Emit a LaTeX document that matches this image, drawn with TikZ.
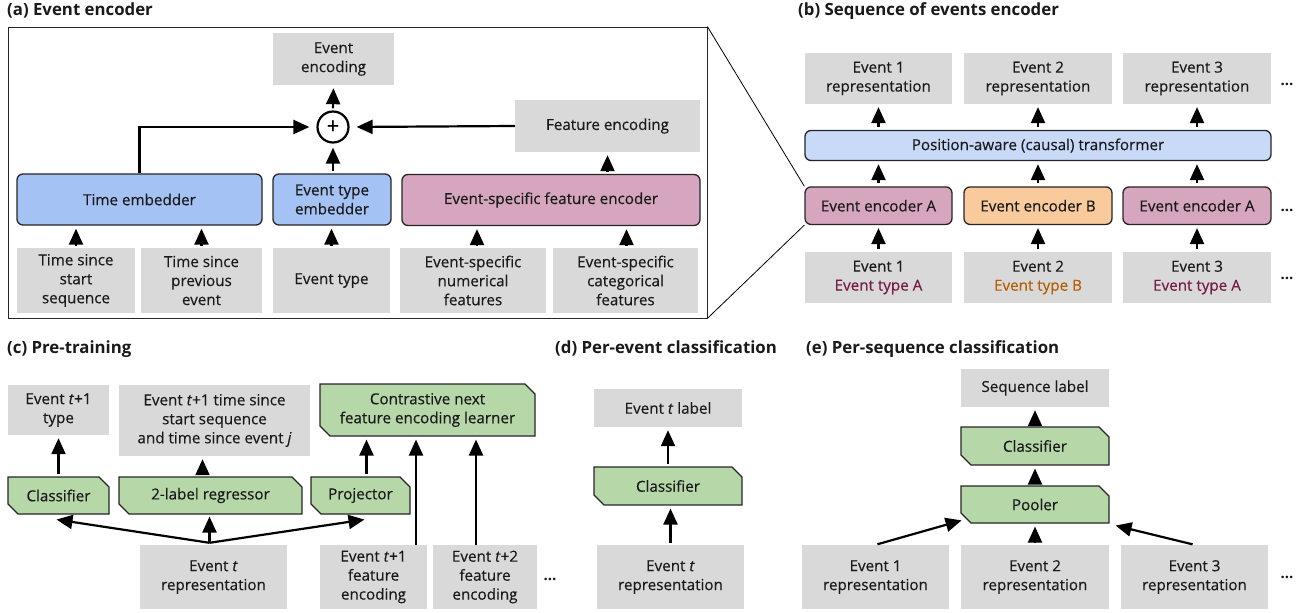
\documentclass[tikz,border=0pt]{standalone}
\usepackage{fontspec}
\setmainfont{Open Sans}
\newfontfamily\bodyf{Open Sans}[FakeBold=0.35]
\usetikzlibrary{arrows.meta,shapes.misc}
\definecolor{boxgray}{HTML}{D9D9D9}
\definecolor{txt}{HTML}{1A1A1A}
\definecolor{edge}{HTML}{262626}
\definecolor{blueA}{HTML}{A4C2F4}
\definecolor{blueB}{HTML}{C9DAF8}
\definecolor{pinkA}{HTML}{D5A6BD}
\definecolor{orangeA}{HTML}{F9CB9C}
\definecolor{greenA}{HTML}{B6D7A8}
\definecolor{typeA}{HTML}{741B47}
\definecolor{typeB}{HTML}{B45F06}
\tikzset{
  sz/.style 2 args={minimum width=#1pt, minimum height=#2pt},
  base/.style={inner sep=0pt, align=center, text=txt, font=\bodyf\fontsize{15.2}{19}\selectfont},
  gbox/.style={base, fill=boxgray},
  rbox/.style={base, draw=edge, line width=1.3pt, rounded corners=6pt},
  cbox/.style={base, chamfered rectangle, chamfered rectangle corners={north east,south west},
    chamfered rectangle xsep=5pt, chamfered rectangle ysep=5pt, draw=edge, line width=1.1pt, fill=greenA},
  arr/.style={-{Triangle[length=16pt,width=14pt]}, line width=2.2pt, shorten >=3pt, shorten <=2pt},
  ttl/.style={anchor=base west, inner sep=0pt, font=\bfseries\fontsize{16.8}{19}\selectfont, text=txt},
  dotsn/.style={inner sep=0pt, font=\bfseries\fontsize{15}{17}\selectfont, text=txt},
}
\begin{document}
\begin{tikzpicture}[x=1pt,y=-1pt]
\useasboundingbox (0,0) rectangle (1307,613);
% ---------------- (a)
\node[ttl] (ta) at (7,16) {(a) Event encoder};
\node[draw=edge, line width=0.8pt, inner sep=0pt, sz={699}{291}] (frameA) at (357.5,172.5) {};
\node[gbox, sz={121}{52}] (evenc) at (333.5,59) {Event\\encoding};
\node[circle, draw=black, line width=2.2pt, minimum size=31pt, inner sep=0pt, text=black, font=\bodyf\fontsize{22}{22}\selectfont] (plus) at (333,127) {+};
\node[gbox, sz={185}{52}] (featenc) at (607.5,126) {Feature encoding};
\node[rbox, fill=blueA, sz={245}{51}] (timeemb) at (139.5,199.5) {Time embedder};
\node[rbox, fill=blueA, sz={118}{51}] (typeemb) at (332,199.5) {Event type\\embedder};
\node[rbox, fill=pinkA, sz={298}{51}] (fenc) at (551,200) {Event-specific feature encoder};
\node[gbox, sz={118}{65}] (ts1) at (76,280.5) {Time since\\start\\sequence};
\node[gbox, sz={121}{65}] (ts2) at (201.5,280.5) {Time since\\previous\\event};
\node[gbox, sz={117}{65}] (etype) at (331.5,280.5) {Event type};
\node[gbox, sz={146}{65}] (numf) at (473,280.5) {Event-specific\\numerical\\features};
\node[gbox, sz={145}{65}] (catf) at (625.5,280.5) {Event-specific\\categorical\\features};
\draw[arr] (ts1.north) -- (ts1.north |- timeemb.south);
\draw[arr] (ts2.north) -- (ts2.north |- timeemb.south);
\draw[arr] (etype.north) -- (etype.north |- typeemb.south);
\draw[arr] ([xshift=4pt]numf.north) -- ([xshift=4pt]numf.north |- fenc.south);
\draw[arr] ([xshift=1pt]catf.north) -- ([xshift=1pt]catf.north |- fenc.south);
\draw[arr, shorten >=4pt] (typeemb.north -| plus.south) -- (plus.south);
\draw[arr] (plus.north) -- (evenc.south);
\draw[arr] (featenc.south |- fenc.north) -- (featenc.south);
\draw[arr, shorten >=7pt, shorten <=0pt] (featenc.west) -- (plus.east);
\draw[arr, shorten >=7pt, shorten <=0pt] (timeemb.north) |- (plus.west);
% ---------------- (b)
\node[ttl] (tb) at (798,16) {(b) Sequence of events encoder};
\node[gbox, sz={147}{51}] (r1) at (878.5,78.4) {Event 1\\representation};
\node[gbox, sz={148}{51}] (r2) at (1038,78.4) {Event 2\\representation};
\node[gbox, sz={148}{51}] (r3) at (1197,78.4) {Event 3\\representation};
\node[rbox, fill=blueB, sz={466}{30}] (trans) at (1038,145.5) {Position-aware (causal) transformer};
\node[rbox, fill=pinkA, sz={147}{37.5}] (encA1) at (878.5,205.7) {Event encoder A};
\node[rbox, fill=orangeA, sz={148}{37.5}] (encB) at (1038,205.7) {Event encoder B};
\node[rbox, fill=pinkA, sz={148}{37.5}] (encA2) at (1197,205.7) {Event encoder A};
\node[gbox, sz={147}{51}] (in1) at (878.5,277.5) {Event 1\\\textcolor{typeA}{Event type A}};
\node[gbox, sz={148}{51}] (in2) at (1038,277.5) {Event 2\\\textcolor{typeB}{Event type B}};
\node[gbox, sz={148}{51}] (in3) at (1197,277.5) {Event 3\\\textcolor{typeA}{Event type A}};
\node[dotsn] (db1) at (1287,84) {...};
\node[dotsn] (db2) at (1287,210) {...};
\node[dotsn] (db3) at (1287,278) {...};
\foreach \i/\e in {1/encA1,2/encB,3/encA2}{
  \draw[arr, shorten <=3pt] (in\i.north) -- (\e.south);
  \draw[arr, shorten <=3pt] (\e.north) -- (\e.north |- trans.south);
  \draw[arr, shorten <=3pt] (r\i.south |- trans.north) -- (r\i.south);
}
\draw[line width=0.8pt] (frameA.north east) -- (encA1.north west);
\draw[line width=0.8pt] (frameA.south east) -- (encA1.south west);
% ---------------- (c)
\node[ttl] (tc) at (7,353) {(c) Pre-training};
\node[gbox, sz={101}{50}] (t1type) at (58.5,410) {Event \textit{t}+1\\type};
\node[gbox, sz={191}{71}] (timebox) at (214.5,420.5) {Event \textit{t}+1 time since\\start sequence\\and time since event \textit{j}};
\node[cbox, sz={215}{52}] (con) at (427.5,410) {Contrastive next\\feature encoding learner};
\node[cbox, sz={101}{37}] (clsC) at (58.5,495.5) {Classifier};
\node[cbox, sz={183}{37}] (reg) at (210.5,495.5) {2-label regressor};
\node[cbox, sz={99}{37}] (proj) at (360.5,495.5) {Projector};
\node[gbox, sz={147}{64}] (rep) at (213.5,577) {Event \textit{t}\\representation};
\node[gbox, sz={107}{64}] (fe1) at (373.5,577) {Event \textit{t}+1\\feature\\encoding};
\node[gbox, sz={104}{64}] (fe2) at (485,577) {Event \textit{t}+2\\feature\\encoding};
\node[dotsn] (dc) at (550,579) {...};
\draw[arr] (clsC.north) -- (clsC.north |- t1type.south);
\draw[arr] ([xshift=-8pt]reg.north) -- ([xshift=-8pt]reg.north |- timebox.south);
\draw[arr] ([xshift=6pt]proj.north) -- ([xshift=6pt]proj.north |- con.south);
\draw[arr, shorten <=0pt] ([xshift=42.5pt]fe1.north) -- ([xshift=42.5pt]fe1.north |- con.south);
\draw[arr, shorten <=0pt] ([xshift=-9pt]fe2.north) -- ([xshift=-9pt]fe2.north |- con.south);
\coordinate (br) at ([xshift=-4pt,yshift=2pt]rep.north);
\draw[arr, shorten <=0pt, shorten >=0pt] (br) -- ([xshift=-2pt,yshift=-5pt]clsC.south);
\draw[arr, shorten <=0pt, shorten >=2pt] (br) -- (br |- reg.south);
\draw[arr, shorten <=0pt, shorten >=0pt] (br) -- ([xshift=4pt,yshift=-5pt]proj.south);
% ---------------- (d)
\node[ttl] (td) at (555,353) {(d) Per-event classification};
\node[gbox, sz={148}{38}] (lblD) at (668,408) {Event \textit{t} label};
\node[cbox, sz={148}{38}] (clsD) at (668,486) {Classifier};
\node[gbox, sz={147}{64}] (repD) at (670.5,577) {Event \textit{t}\\representation};
\draw[arr] (clsD.north) -- (clsD.north |- lblD.south);
\draw[arr] (repD.north) -- (repD.north |- clsD.south);
% ---------------- (e)
\node[ttl] (te) at (806,353) {(e) Per-sequence classification};
\node[gbox, sz={148}{38}] (seq) at (1035,388) {Sequence label};
\node[cbox, sz={148}{38}] (clsE) at (1035,446) {Classifier};
\node[cbox, sz={148}{37}] (pool) at (1035,504.5) {Pooler};
\node[gbox, sz={147}{64}] (ev1) at (875.5,577) {Event 1\\representation};
\node[gbox, sz={148}{64}] (ev2) at (1035,577) {Event 2\\representation};
\node[gbox, sz={147}{64}] (ev3) at (1194.5,577) {Event 3\\representation};
\node[dotsn] (de) at (1287,577) {...};
\draw[arr] (clsE.north) -- (seq.south);
\draw[arr] (pool.north) -- (clsE.south);
\draw[arr] (ev2.north) -- (pool.south);
\draw[arr, shorten >=0pt] (ev1.north) -- ([xshift=-4pt,yshift=-2pt]pool.south west);
\draw[arr, shorten >=0pt] (ev3.north) -- ([xshift=6pt,yshift=-2pt]pool.south east);
\end{tikzpicture}
\end{document}
